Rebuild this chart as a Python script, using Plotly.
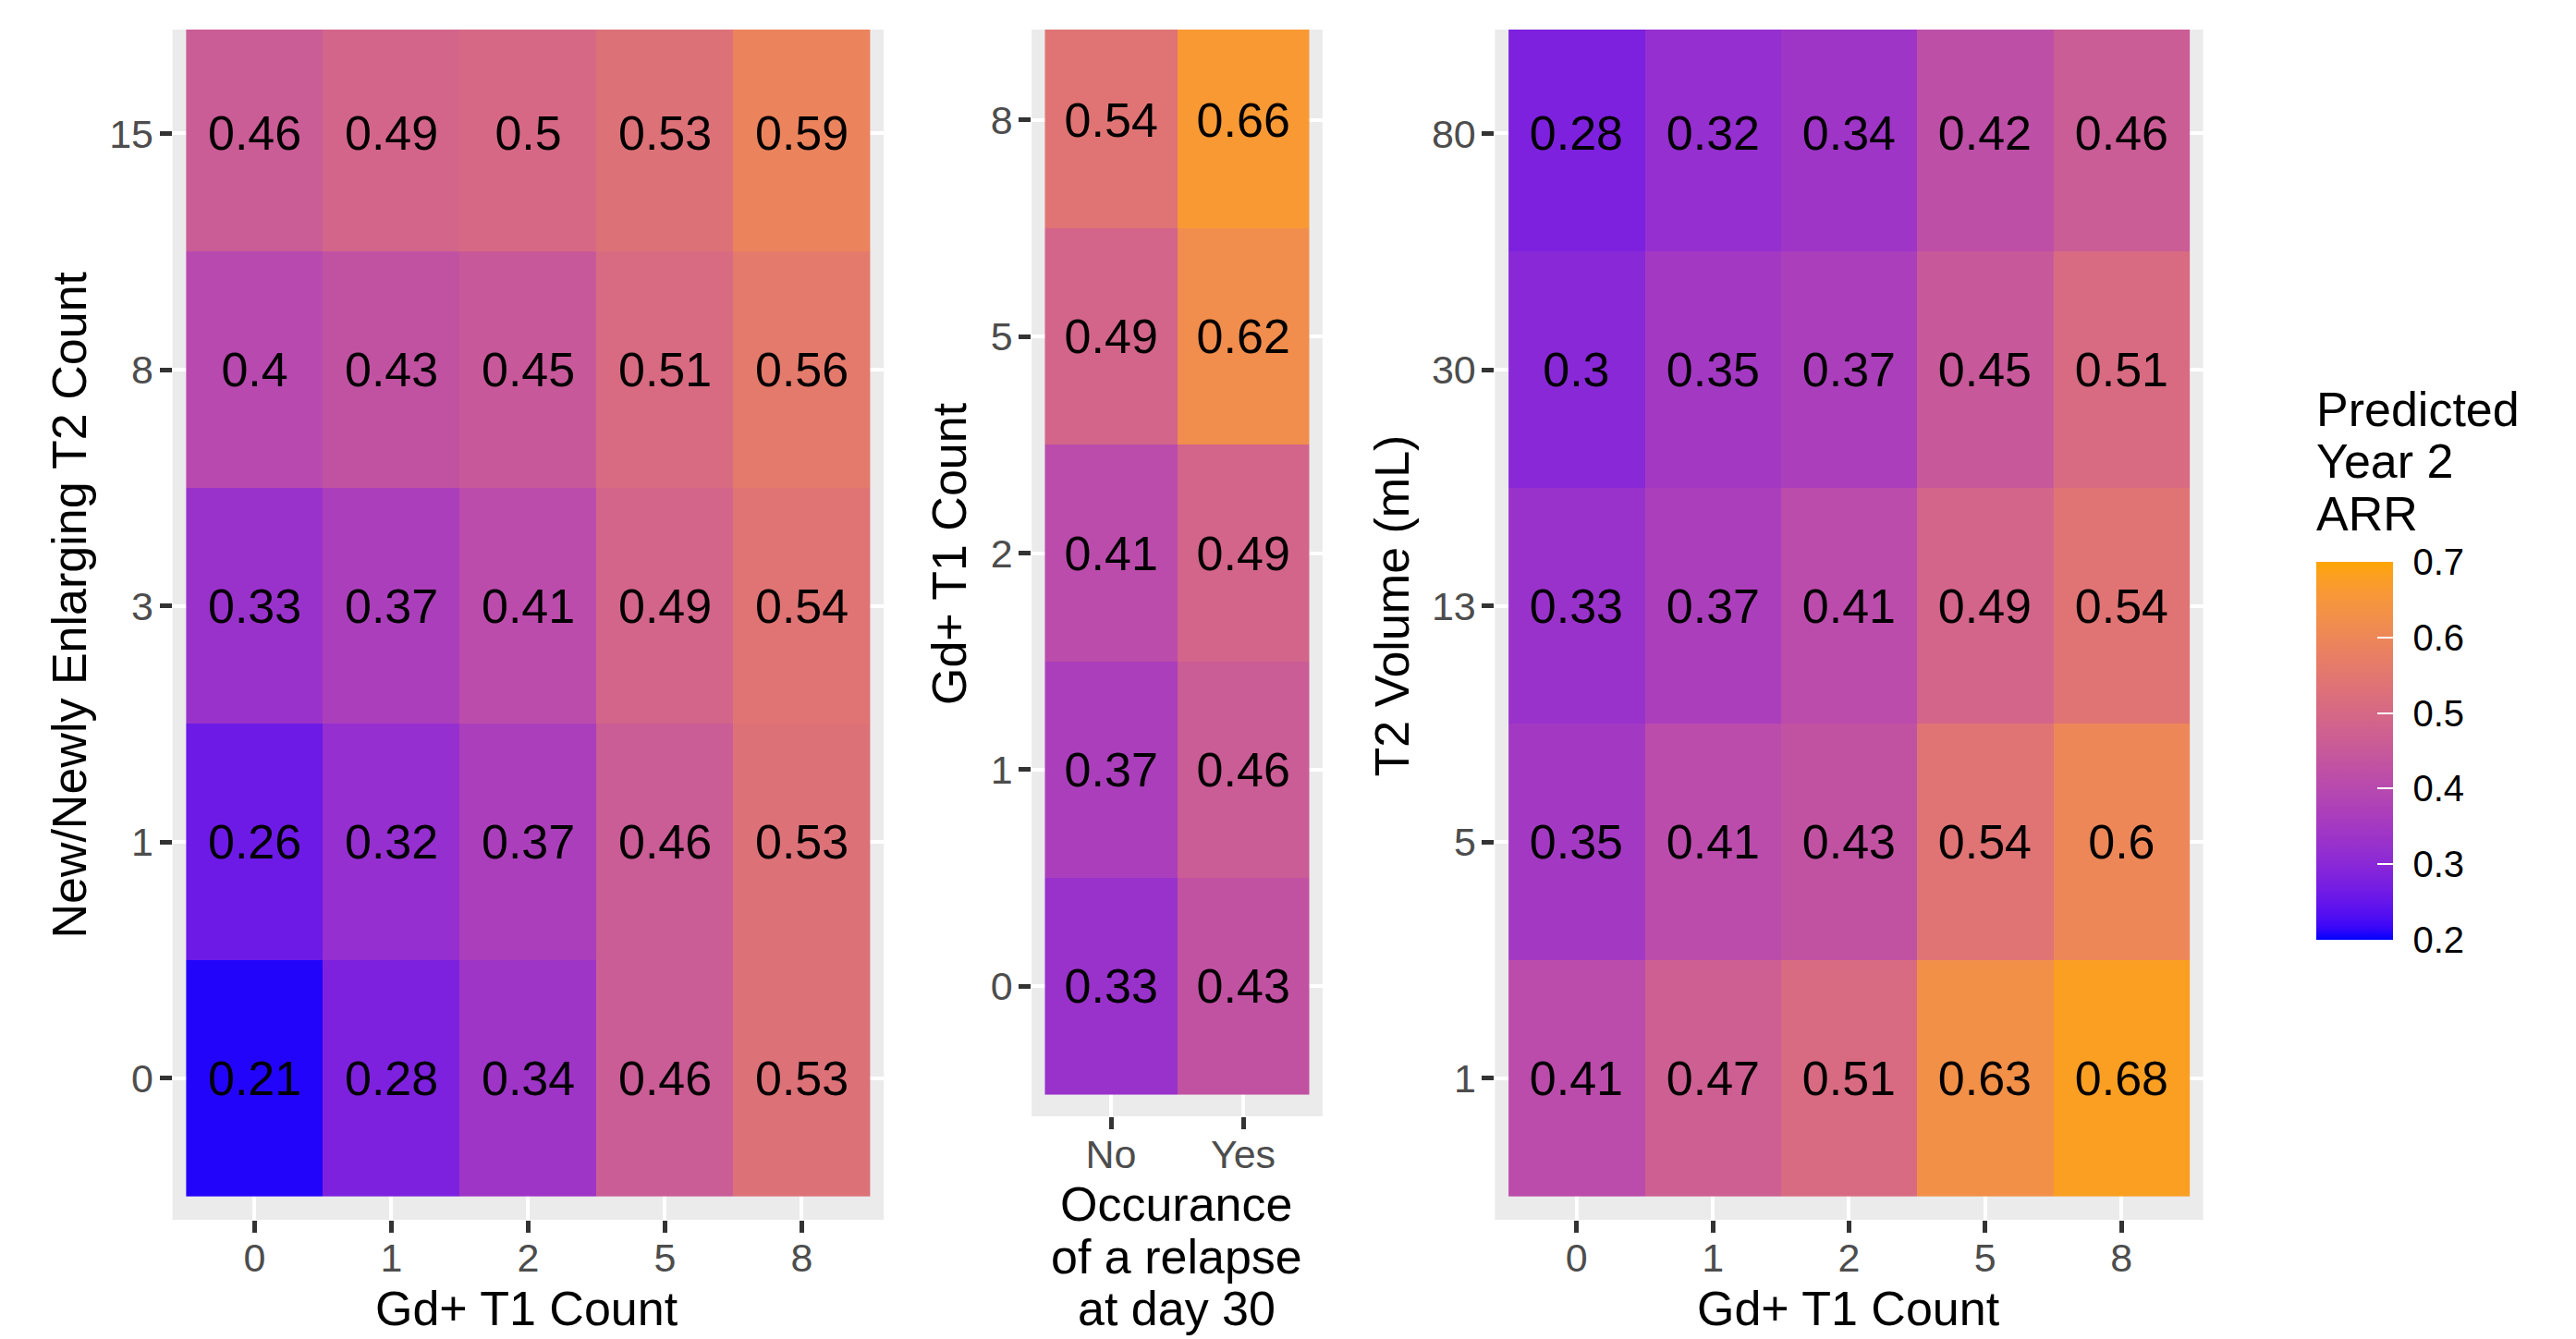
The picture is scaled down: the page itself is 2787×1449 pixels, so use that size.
import numpy as np
import plotly.graph_objects as go

W, H = 2787, 1449

# ---------------- data ----------------
gd_t1 = ["0", "1", "2", "5", "8"]
new_t2 = ["0", "1", "3", "8", "15"]
arr_newt2 = [
    [0.21, 0.28, 0.34, 0.46, 0.53],
    [0.26, 0.32, 0.37, 0.46, 0.53],
    [0.33, 0.37, 0.41, 0.49, 0.54],
    [0.40, 0.43, 0.45, 0.51, 0.56],
    [0.46, 0.49, 0.50, 0.53, 0.59],
]

relapse = ["No", "Yes"]
gd_t1_mid = ["0", "1", "2", "5", "8"]
arr_relapse = [
    [0.33, 0.43],
    [0.37, 0.46],
    [0.41, 0.49],
    [0.49, 0.62],
    [0.54, 0.66],
]

t2_vol = ["1", "5", "13", "30", "80"]
arr_t2vol = [
    [0.41, 0.47, 0.51, 0.63, 0.68],
    [0.35, 0.41, 0.43, 0.54, 0.60],
    [0.33, 0.37, 0.41, 0.49, 0.54],
    [0.30, 0.35, 0.37, 0.45, 0.51],
    [0.28, 0.32, 0.34, 0.42, 0.46],
]

legend_ticks = [0.2, 0.3, 0.4, 0.5, 0.6, 0.7]


# ---------------- colour scale (Lab interpolation, like ggplot) ----------------
def srgb_to_lab(hexc):
    rgb = np.array([int(hexc[i:i + 2], 16) for i in (1, 3, 5)]) / 255.0
    lin = np.where(rgb <= 0.04045, rgb / 12.92, ((rgb + 0.055) / 1.055) ** 2.4)
    M = np.array([[0.4124564, 0.3575761, 0.1804375],
                  [0.2126729, 0.7151522, 0.0721750],
                  [0.0193339, 0.1191920, 0.9503041]])
    xyz = M @ lin
    wp = np.array([0.95047, 1.0, 1.08883])
    t = xyz / wp
    f = np.where(t > (6 / 29) ** 3, np.cbrt(t), t / (3 * (6 / 29) ** 2) + 4 / 29)
    return np.array([116 * f[1] - 16, 500 * (f[0] - f[1]), 200 * (f[1] - f[2])])


def lab_to_srgb(lab):
    L, a, b = lab
    fy = (L + 16) / 116
    fx = fy + a / 500
    fz = fy - b / 200
    f = np.array([fx, fy, fz])
    t = np.where(f > 6 / 29, f ** 3, 3 * (6 / 29) ** 2 * (f - 4 / 29))
    xyz = t * np.array([0.95047, 1.0, 1.08883])
    Minv = np.array([[3.2404542, -1.5371385, -0.4985314],
                     [-0.9692660, 1.8760108, 0.0415560],
                     [0.0556434, -0.2040259, 1.0572252]])
    lin = np.clip(Minv @ xyz, 0, 1)
    rgb = np.where(lin <= 0.0031308, 12.92 * lin, 1.055 * lin ** (1 / 2.4) - 0.055)
    rgb = np.clip(np.round(rgb * 255), 0, 255).astype(int)
    return "rgb(%d,%d,%d)" % tuple(rgb)


lo, hi = srgb_to_lab("#0000FF"), srgb_to_lab("#FFA500")
stops = np.linspace(0, 1, 31)
colorscale = [[float(s), lab_to_srgb(lo + (hi - lo) * s)] for s in stops]

FONT = "Liberation Sans, Arial, sans-serif"
TXT = 52
TICK = 43


def px(x):
    return x / W


def py(y):
    return 1 - y / H


fig = go.Figure()


def add_heat(x, y, z, xa, ya):
    fig.add_trace(go.Heatmap(
        x=x, y=y, z=z, coloraxis="coloraxis",
        texttemplate="%{z}", textfont=dict(size=TXT, color="black", family=FONT),
        xgap=0, ygap=0, xaxis=xa, yaxis=ya, hoverinfo="skip",
    ))


add_heat(gd_t1, new_t2, arr_newt2, "x", "y")
add_heat(relapse, gd_t1_mid, arr_relapse, "x2", "y2")
add_heat(gd_t1, t2_vol, arr_t2vol, "x3", "y3")

# dummy trace only to draw white inner tick marks over the colourbar
fig.add_trace(go.Scatter(x=[None], y=[None], mode="markers", xaxis="x", yaxis="y",
                         marker=dict(color=[0.2], coloraxis="coloraxis2"),
                         hoverinfo="skip", showlegend=False))

axis_common = dict(
    type="category", showgrid=True, gridcolor="white", gridwidth=4,
    zeroline=False, showline=False, ticks="outside", ticklen=13, tickwidth=4.5,
    tickcolor="#333333", tickfont=dict(size=TICK, color="#4D4D4D", family=FONT),
    fixedrange=True,
)
xaxis_common = dict(axis_common, ticklabelstandoff=-10)
yaxis_common = dict(axis_common, ticklabelstandoff=-2)

# panel pixel positions in the page (left, right, top, bottom)
p1 = (186.6, 956.2, 32, 1320)
p2 = (1116.2, 1430.8, 32, 1208)
p3 = (1617.4, 2383.5, 32, 1320)


def xd(p):
    return [px(p[0]), px(p[1])]


def yd(p):
    return [py(p[3]), py(p[2])]


cb_common = dict(
    x=px(2506), xanchor="left", y=py(812.5), yanchor="middle",
    len=409, lenmode="pixels", thickness=83, thicknessmode="pixels",
    tickvals=legend_ticks, tickformat=".1f", outlinewidth=0,
    xpad=0, ypad=0,
)

fig.update_layout(
    width=W, height=H, autosize=False,
    margin=dict(l=0, r=0, t=0, b=0),
    paper_bgcolor="white", plot_bgcolor="#EBEBEB",
    font=dict(family=FONT, color="black"),
    xaxis=dict(xaxis_common, domain=xd(p1), anchor="y", range=[-0.6, 4.6],
               categoryorder="array", categoryarray=gd_t1),
    yaxis=dict(yaxis_common, domain=yd(p1), anchor="x", range=[-0.6, 4.44],
               categoryorder="array", categoryarray=new_t2),
    xaxis2=dict(xaxis_common, domain=xd(p2), anchor="y2", range=[-0.6, 1.6],
                categoryorder="array", categoryarray=relapse),
    yaxis2=dict(yaxis_common, domain=yd(p2), anchor="x2", range=[-0.6, 4.417],
                categoryorder="array", categoryarray=gd_t1_mid),
    xaxis3=dict(xaxis_common, domain=xd(p3), anchor="y3", range=[-0.6, 4.6],
                categoryorder="array", categoryarray=gd_t1),
    yaxis3=dict(yaxis_common, domain=yd(p3), anchor="x3", range=[-0.6, 4.44],
                categoryorder="array", categoryarray=t2_vol),
    coloraxis=dict(
        colorscale=colorscale, cmin=0.2, cmax=0.7,
        colorbar=dict(cb_common, ticks="outside", tickcolor="rgba(0,0,0,0)",
                      ticklen=14, tickwidth=2,
                      tickfont=dict(size=40, color="black", family=FONT)),
    ),
    coloraxis2=dict(
        colorscale=colorscale, cmin=0.2, cmax=0.7,
        colorbar=dict(cb_common, ticks="inside", tickcolor="white",
                      ticklen=17, tickwidth=2, showticklabels=False),
    ),
)


def ann(text, x, y, angle=0, size=TXT, xanchor="center"):
    fig.add_annotation(text=text, x=px(x), y=py(y), xref="paper", yref="paper",
                       showarrow=False, textangle=angle, xanchor=xanchor,
                       yanchor="middle", font=dict(size=size, color="black", family=FONT))


# axis titles
ann("Gd+ T1 Count", 570, 1416)
ann("Gd+ T1 Count", 2000, 1416)
ann("Occurance", 1272.6, 1303)
ann("of a relapse", 1272.6, 1360)
ann("at day 30", 1272.6, 1416)
ann("New/Newly Enlarging T2 Count", 74.6, 655, angle=-90)
ann("Gd+ T1 Count", 1027, 599, angle=-90)
ann("T2 Volume (mL)", 1505.5, 656, angle=-90)

# legend title
ann("Predicted", 2504, 442.6, xanchor="left")
ann("Year 2", 2504, 499.4, xanchor="left")
ann("ARR", 2504, 556.3, xanchor="left")

fig.write_html("out.html", config={"displayModeBar": False},
               post_script="document.body.style.margin='0';document.body.style.overflow='hidden';")
